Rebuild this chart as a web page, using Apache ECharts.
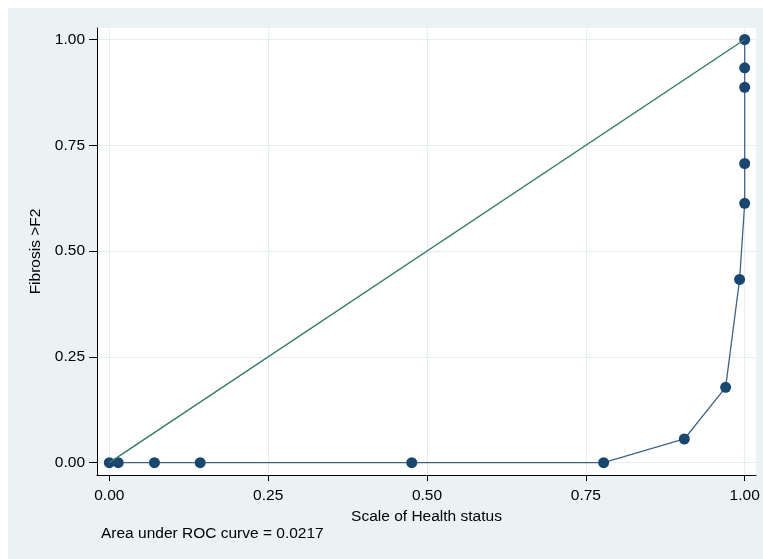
<!DOCTYPE html>
<html>
<head>
<meta charset="utf-8">
<script src="https://cdn.jsdelivr.net/npm/echarts@6/dist/echarts.min.js"></script>
<style>
  html, body { margin: 0; padding: 0; background: #ffffff; }
  #chart { width: 763px; height: 559px; }
</style>
</head>
<body>
<div id="chart"></div>
<script>
// ROC curve points: 1 - specificity (x) and sensitivity (y)
const falsePositiveRate = [0, 0.014, 0.071, 0.143, 0.476, 0.778, 0.905, 0.970, 0.992, 1, 1, 1, 1, 1];
const truePositiveRate  = [0, 0, 0, 0, 0, 0, 0.056, 0.178, 0.433, 0.613, 0.707, 0.887, 0.933, 1];
// Chance line endpoints
const referenceX = [0, 1];
const referenceY = [0, 1];
// Tick labels on both axes
const xTicks = [0, 0.25, 0.5, 0.75, 1];
const yTicks = [0, 0.25, 0.5, 0.75, 1];
const xTitle = 'Scale of Health status';
const yTitle = 'Fibrosis >F2';
const aucNote = 'Area under ROC curve = 0.0217';

const font = "'Liberation Sans', Arial, Helvetica, sans-serif";
const fontSize = 15.5;
const rocPoints = falsePositiveRate.map((x, i) => [x, truePositiveRate[i]]);
const refPoints = referenceX.map((x, i) => [x, referenceY[i]]);

const chart = echarts.init(document.getElementById('chart'), null, { renderer: 'canvas' });
chart.setOption({
  animation: false,
  backgroundColor: '#ffffff',
  graphic: [
    { type: 'rect', z: -10, silent: true,
      shape: { x: 8, y: 8, width: 755, height: 551 },
      style: { fill: '#eaf2f3' } },
    { type: 'rect', z: -9, silent: true,
      shape: { x: 97, y: 28, width: 659, height: 447 },
      style: { fill: '#ffffff' } },
    { type: 'text', left: 101, top: 526,
      style: { text: aucNote, font: fontSize + 'px ' + font, fill: '#000000' } }
  ],
  grid: { left: 97, top: 28, right: 7, bottom: 84, containLabel: false },
  xAxis: {
    type: 'value',
    min: -0.0194, max: 1.0178,
    name: xTitle, nameLocation: 'middle', nameGap: 27,
    nameTextStyle: { fontFamily: font, fontSize: fontSize, color: '#000' },
    axisLine: { show: true, onZero: false, lineStyle: { color: '#000', width: 1 } },
    axisTick: { show: true, length: 6, customValues: xTicks, lineStyle: { color: '#000' } },
    axisLabel: { customValues: xTicks, margin: 13, fontFamily: font, fontSize: fontSize, color: '#000',
                 formatter: v => v.toFixed(2) },
    splitLine: { show: true, lineStyle: { color: '#e6eff0', width: 1 } }
  },
  yAxis: {
    type: 'value',
    min: -0.0291, max: 1.0272,
    name: yTitle, nameLocation: 'middle', nameGap: 52, nameRotate: 90,
    nameTextStyle: { fontFamily: font, fontSize: fontSize, color: '#000' },
    axisLine: { show: true, onZero: false, lineStyle: { color: '#000', width: 1 } },
    axisTick: { show: true, length: 8, customValues: yTicks, lineStyle: { color: '#000' } },
    axisLabel: { customValues: yTicks, margin: 12, fontFamily: font, fontSize: fontSize, color: '#000',
                 formatter: v => v.toFixed(2) },
    splitLine: { show: true, lineStyle: { color: '#e6eff0', width: 1 } }
  },
  series: [
    {
      type: 'line',
      data: rocPoints,
      symbol: 'circle',
      symbolSize: 11,
      showAllSymbol: true,
      lineStyle: { color: '#3f6386', width: 1.3 },
      itemStyle: { color: '#1a476f', borderWidth: 0 },
      z: 2
    },
    {
      type: 'line',
      data: refPoints,
      symbol: 'none',
      lineStyle: { color: '#347a69', width: 1.4 },
      z: 3
    }
  ]
});
</script>
</body>
</html>
